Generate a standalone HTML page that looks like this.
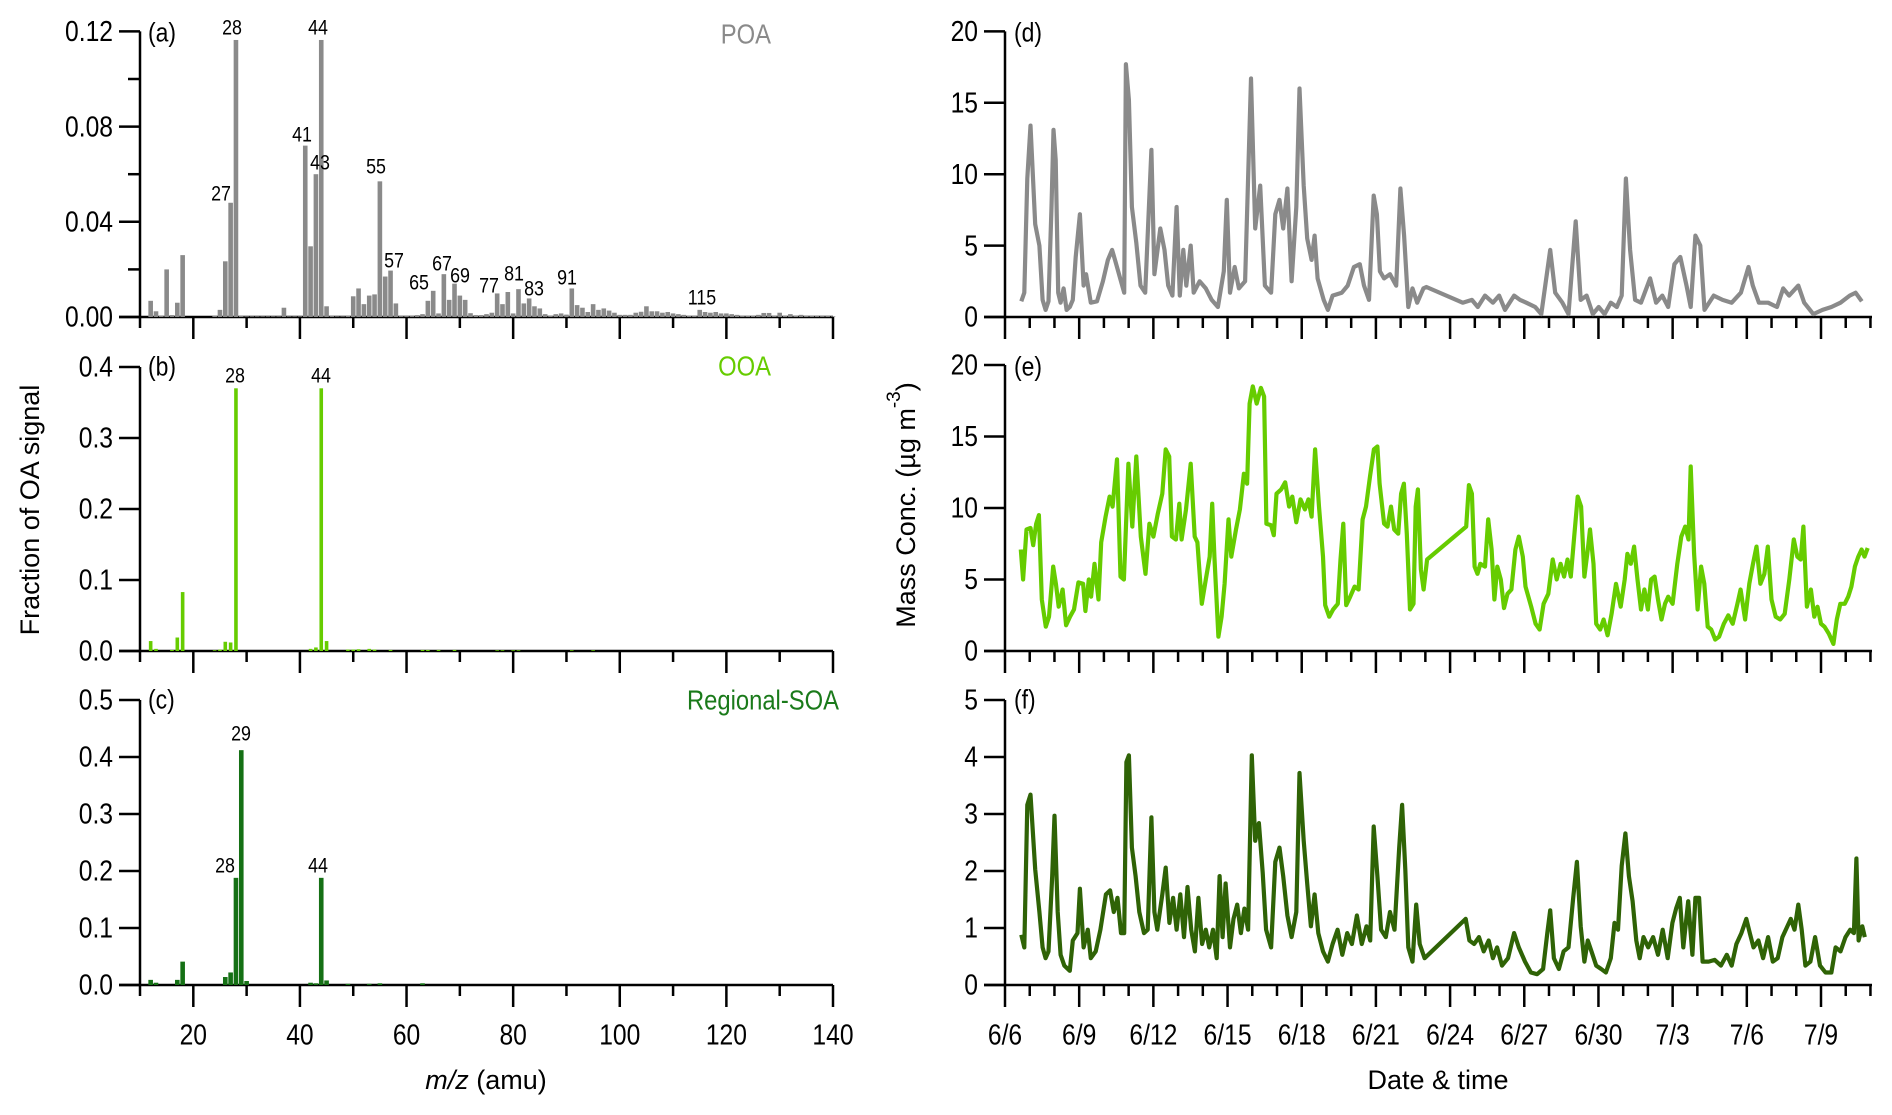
<!DOCTYPE html>
<html><head><meta charset="utf-8">
<style>
html,body{margin:0;padding:0;background:#fff;}
svg{display:block;}
.n{font-family:"Liberation Sans Narrow","Liberation Sans",sans-serif;}
.w{font-family:"Liberation Sans",sans-serif;}
</style></head>
<body>
<svg id="fig" width="1892" height="1115" viewBox="0 0 1892 1115" xmlns="http://www.w3.org/2000/svg">
<g id="axes"></g>
<g id="marks"></g>
<g id="texts"></g>
</svg>
<script>
// ---------- mass spectra data (m/z 12..140) ----------
const mzStart = 12;
const poaValues = [.0068,.0024,.0005,.020,.0008,.006,.026,0,0,0,0,0,.0005,.003,.0234,.048,.1164,.0005,
.0003,.0003,.0003,.0003,.0003,.0003,.0003,.0039,.0003,.0003,.0003,.072,.0297,.060,.1164,.0045,.0004,.0003,.0003,.0005,
.0087,.012,.0054,.009,.0095,.057,.017,.0195,.0057,.0004,.0004,.0004,.0008,.0012,.0068,.011,.0015,.018,.0072,.014,.009,.0072,
.0016,.0008,.0008,.0012,.0018,.0099,.0054,.0105,.0015,.0117,.0057,.0078,.0045,.0036,.0012,.0005,.0012,.0015,.001,.012,.005,.0039,
.0021,.0054,.003,.0036,.0027,.0018,.0009,.0009,.0009,.0018,.0022,.0045,.0024,.0024,.0018,.0021,.0015,.0012,.0009,.0006,.0005,.003,
.0021,.0018,.0021,.0015,.0015,.0012,.0009,.0006,.0006,.0005,.0009,.0017,.0017,.0005,.0018,.0005,.0012,.0005,.0009,.0005,.0005,.0004,.0004,.0004,.0003];
const ooaMz = [12,13,16,17,18,24,25,26,27,28,42,43,44,45,49,50,51,53,54,57,63,64,66,69,77,78,80,81,91,95];
const ooaValues = [.014,.003,.0015,.019,.083,.001,.002,.013,.012,.37,.003,.005,.37,.014,.002,.002,.0025,.003,.002,.0015,.0015,.0015,.0015,.0015,.001,.001,.001,.001,.001,.001];
const soaMz = [12,13,17,18,26,27,28,29,30,42,43,44,45,49,53,55,63];
const soaValues = [.009,.004,.009,.041,.014,.022,.188,.412,.007,.004,.003,.188,.008,.002,.002,.003,.003];

const poaLabels = [["28",232,28],["44",318,28],["41",302,135],["43",320,163],["27",221,194],["55",376,167],["57",394,261],["65",419,283],["67",442,264],["69",460,276],["77",489,286],["81",514,274],["83",534,289],["91",567,278],["115",702,298]];

// ---------- time series (days since 6/6 00:00) ----------
const poaDays = [0.66,0.78,0.90,1.03,1.22,1.39,1.52,1.64,1.76,1.88,1.96,2.05,2.15,2.25,2.37,2.49,2.62,2.74,2.86,3.03,3.18,3.28,3.47,3.72,3.96,4.16,4.33,4.45,4.69,4.82,4.89,5.01,5.13,5.31,5.48,5.67,5.92,6.04,6.28,6.45,6.60,6.77,6.94,7.07,7.21,7.33,7.51,7.63,7.87,8.12,8.36,8.61,8.85,8.97,9.10,9.29,9.46,9.71,9.95,10.12,10.32,10.51,10.76,10.93,11.10,11.25,11.42,11.59,11.78,11.91,12.08,12.22,12.40,12.52,12.64,12.89,13.06,13.25,13.62,13.86,14.11,14.35,14.52,14.72,14.91,15.04,15.16,15.33,15.57,15.82,15.99,16.14,16.31,16.48,16.67,16.92,17.04,18.51,18.88,19.12,19.41,19.73,19.98,20.22,20.59,20.83,21.08,21.44,21.69,22.05,22.25,22.54,22.79,23.08,23.28,23.52,23.77,24.01,24.25,24.50,24.74,24.94,25.11,25.28,25.48,25.72,26.09,26.33,26.58,26.82,27.07,27.31,27.56,27.73,27.92,28.12,28.29,28.66,29.02,29.39,29.76,30.07,30.24,30.49,30.86,31.22,31.47,31.71,32.08,32.32,32.69,33.06,33.42,33.79,34.16,34.40,34.65];
const poaConc = [1.1,1.7,9.7,13.4,6.5,5.0,1.2,0.5,1.1,7.7,13.1,11.0,1.7,1.0,2.0,0.5,0.7,1.2,4.2,7.2,2.2,3.0,1.0,1.1,2.5,4.0,4.7,4.0,2.5,1.7,17.7,15.2,7.7,5.2,2.2,1.7,11.7,3.0,6.2,4.7,2.2,1.5,7.7,1.5,4.7,2.2,5.0,1.7,2.5,2.0,1.2,0.7,3.2,8.2,1.7,3.5,2.0,2.5,16.7,6.2,9.2,2.2,1.7,7.2,8.2,6.2,9.0,2.5,7.7,16.0,9.2,5.5,4.0,5.7,2.7,1.2,0.5,1.5,1.7,2.2,3.5,3.7,2.2,1.2,8.5,7.2,3.2,2.7,3.0,2.2,9.0,5.7,0.7,2.0,1.0,2.0,2.1,1.0,1.2,0.7,1.5,1.0,1.5,0.5,1.5,1.2,1.0,0.7,0.2,4.7,1.7,1.0,0.2,6.7,1.2,1.5,0.2,0.7,0.2,1.0,0.7,1.5,9.7,4.7,1.2,1.0,2.7,1.0,1.5,0.7,3.7,4.2,2.2,0.7,5.7,5.0,0.5,1.5,1.2,1.0,1.7,3.5,2.2,1.0,1.0,0.7,2.0,1.5,2.2,1.0,0.2,0.5,0.7,1.0,1.5,1.7,1.1];

const ooaDays = [0.64,0.73,0.87,1.03,1.14,1.26,1.37,1.49,1.65,1.78,1.95,2.06,2.17,2.33,2.47,2.63,2.79,2.97,3.16,3.25,3.39,3.48,3.62,3.78,3.89,4.07,4.23,4.35,4.53,4.67,4.81,4.99,5.15,5.31,5.49,5.68,5.84,6.00,6.18,6.36,6.50,6.64,6.75,6.91,7.05,7.14,7.32,7.51,7.67,7.78,7.96,8.12,8.28,8.38,8.47,8.63,8.76,8.88,9.04,9.15,9.34,9.50,9.66,9.79,9.89,10.02,10.18,10.35,10.48,10.57,10.76,10.87,10.98,11.17,11.33,11.49,11.62,11.78,11.95,12.13,12.27,12.40,12.54,12.70,12.86,12.95,13.11,13.27,13.46,13.57,13.68,13.80,13.96,14.14,14.30,14.46,14.60,14.76,14.92,15.06,15.15,15.33,15.47,15.61,15.74,15.90,16.02,16.13,16.25,16.38,16.52,16.61,16.70,16.82,16.93,17.07,18.65,18.76,18.88,18.99,19.11,19.22,19.41,19.54,19.68,19.79,19.91,20.05,20.18,20.32,20.48,20.64,20.78,20.94,21.05,21.28,21.46,21.62,21.78,21.97,22.15,22.31,22.47,22.61,22.75,22.88,23.02,23.16,23.30,23.43,23.57,23.66,23.80,23.91,24.07,24.21,24.37,24.53,24.71,24.90,25.06,25.17,25.31,25.44,25.58,25.72,25.86,26.00,26.13,26.27,26.41,26.55,26.69,26.82,27.00,27.19,27.35,27.51,27.64,27.73,27.87,28.01,28.15,28.28,28.42,28.56,28.72,28.88,29.07,29.25,29.43,29.62,29.75,29.93,30.10,30.25,30.39,30.55,30.71,30.85,31.00,31.17,31.35,31.53,31.72,31.90,32.04,32.18,32.29,32.43,32.59,32.73,32.86,33.00,33.14,33.32,33.50,33.64,33.78,33.96,34.10,34.23,34.37,34.51,34.64,34.76,34.89];
const ooaConc = [7.1,5.0,8.5,8.6,7.4,8.9,9.5,3.6,1.7,2.4,5.9,4.7,3.1,4.3,1.8,2.4,2.9,4.8,4.7,2.8,5.0,3.8,6.1,3.6,7.6,9.4,10.8,10.1,13.4,5.2,5.0,13.1,8.7,13.6,8.0,5.4,8.9,8.0,9.6,11.0,14.1,13.6,8.0,7.8,10.3,7.8,9.9,13.1,8.0,7.6,3.3,5.0,6.6,10.3,6.6,1.0,2.4,4.7,9.2,6.6,8.5,9.9,12.4,11.7,17.3,18.5,17.3,18.4,17.8,8.9,8.8,8.1,11.0,11.3,11.8,10.1,10.8,9.0,10.6,9.9,10.6,9.4,14.1,10.1,6.6,3.2,2.4,2.9,3.3,6.4,8.9,3.2,3.8,4.5,4.3,9.2,10.1,12.2,14.1,14.3,11.7,8.9,8.7,10.1,8.5,8.2,11.0,11.7,8.2,2.9,3.3,10.1,11.3,5.7,4.3,6.4,8.7,11.6,11.0,5.9,5.4,6.1,5.9,9.2,7.1,3.6,5.9,5.0,3.0,4.0,4.3,7.1,8.0,6.6,4.5,3.1,1.9,1.5,3.3,4.0,6.4,5.0,6.1,5.2,6.4,5.2,8.0,10.8,10.1,5.2,7.1,8.5,6.1,1.9,1.5,2.2,1.1,2.6,4.7,3.1,5.0,6.8,6.1,7.3,5.0,2.9,4.3,2.9,5.0,5.2,3.6,2.2,3.3,3.8,3.3,6.1,8.0,8.7,7.8,12.9,6.8,2.9,5.9,4.7,1.7,1.5,0.8,1.0,1.9,2.5,1.9,3.3,4.3,2.2,4.7,6.1,7.3,4.7,5.4,7.3,3.6,2.4,2.2,2.6,5.0,7.8,6.6,6.4,8.7,3.1,4.3,2.4,3.1,1.9,1.7,1.2,0.5,2.2,3.3,3.3,3.8,4.5,5.9,6.6,7.1,6.6,7.2];

const soaDays = [0.66,0.78,0.90,1.03,1.22,1.39,1.52,1.64,1.76,1.91,2.00,2.13,2.25,2.40,2.62,2.74,2.93,3.03,3.18,3.35,3.47,3.67,3.86,4.08,4.25,4.40,4.55,4.69,4.82,4.91,5.01,5.13,5.28,5.43,5.62,5.77,5.92,6.04,6.16,6.36,6.50,6.65,6.80,6.94,7.09,7.24,7.38,7.53,7.68,7.82,7.97,8.12,8.26,8.41,8.56,8.68,8.80,8.92,9.10,9.24,9.39,9.54,9.68,9.83,9.98,10.12,10.27,10.42,10.56,10.76,10.93,11.10,11.25,11.42,11.59,11.78,11.91,12.08,12.22,12.37,12.52,12.67,12.86,13.06,13.25,13.45,13.64,13.84,14.03,14.23,14.43,14.62,14.77,14.91,15.06,15.21,15.40,15.57,15.75,15.94,16.06,16.19,16.31,16.48,16.63,16.77,16.97,18.63,18.78,18.97,19.17,19.36,19.56,19.73,19.90,20.10,20.34,20.59,20.78,21.03,21.27,21.52,21.76,21.93,22.05,22.20,22.40,22.59,22.79,22.98,23.13,23.28,23.43,23.57,23.72,23.91,24.11,24.30,24.50,24.65,24.79,24.94,25.09,25.23,25.38,25.53,25.67,25.82,26.01,26.21,26.41,26.60,26.80,26.99,27.14,27.29,27.43,27.63,27.80,27.92,28.07,28.21,28.46,28.70,28.95,29.19,29.39,29.58,29.78,29.98,30.12,30.27,30.47,30.66,30.86,31.05,31.25,31.44,31.64,31.78,31.93,32.08,32.22,32.37,32.57,32.76,32.96,33.18,33.42,33.59,33.79,33.99,34.18,34.33,34.43,34.52,34.67,34.77];
const soaConc = [0.88,0.66,3.16,3.34,2.03,1.28,0.66,0.47,0.59,1.91,2.97,1.28,0.53,0.34,0.25,0.78,0.91,1.69,0.66,0.97,0.47,0.59,0.97,1.59,1.66,1.28,1.53,0.91,0.91,3.91,4.03,2.41,1.91,1.28,0.91,0.97,2.94,1.28,0.97,1.59,2.06,1.09,1.53,0.97,1.59,0.84,1.72,0.97,0.59,1.53,0.72,0.97,0.66,0.97,0.47,1.91,0.84,1.78,0.66,1.16,1.41,0.91,1.34,0.97,4.03,2.53,2.84,1.97,0.97,0.66,2.16,2.41,1.91,1.22,0.84,1.28,3.72,2.53,1.78,1.03,1.59,0.91,0.59,0.41,0.72,0.97,0.53,0.91,0.72,1.22,0.72,1.03,0.78,2.78,1.91,0.97,0.84,1.28,0.97,2.41,3.16,2.03,0.66,0.41,1.41,0.72,0.47,1.16,0.78,0.72,0.84,0.59,0.78,0.47,0.66,0.34,0.47,0.91,0.66,0.41,0.22,0.19,0.28,0.91,1.31,0.47,0.28,0.59,0.66,1.53,2.16,1.03,0.41,0.78,0.59,0.34,0.28,0.22,0.47,1.09,0.97,2.09,2.66,1.91,1.47,0.78,0.47,0.84,0.66,0.84,0.53,0.97,0.47,1.09,1.34,1.53,0.66,1.47,0.53,1.53,1.53,0.41,0.41,0.44,0.34,0.53,0.34,0.72,0.91,1.16,0.91,0.66,0.78,0.47,0.84,0.41,0.47,0.84,1.03,1.16,0.97,1.41,0.97,0.34,0.41,0.84,0.34,0.22,0.22,0.66,0.59,0.84,0.97,0.91,2.22,0.78,1.03,0.84];

const dateLabels = ["6/6","6/9","6/12","6/15","6/18","6/21","6/24","6/27","6/30","7/3","7/6","7/9"];
const mzTicks = [20,40,60,80,100,120,140];
const ticksA = ["0.00","0.04","0.08","0.12"];
const ticksB = ["0.0","0.1","0.2","0.3","0.4"];
const ticksC = ["0.0","0.1","0.2","0.3","0.4","0.5"];
const ticksD = ["0","5","10","15","20"];
const ticksF = ["0","1","2","3","4","5"];

// ---------- helpers ----------
const NS = "http://www.w3.org/2000/svg";
const axesG = document.getElementById('axes'), marksG = document.getElementById('marks'), textG = document.getElementById('texts');
function mk(tag, attrs, parent){ const e=document.createElementNS(NS,tag); for(const k in attrs) e.setAttribute(k,attrs[k]); parent.appendChild(e); return e; }
function txt(s, x, y, size, anchor, cls, fill, parent){
  const t = mk('text',{x:0,y:0,'font-size':size,'text-anchor':anchor,'dominant-baseline':'central',fill:fill||'#000','class':cls,
    transform:'translate('+x+','+y+')'+(cls==='n'?' scale(0.85,1)':'')},parent||textG);
  t.textContent = s; return t;
}
const LX0=140, LX1=833;
const X = mz => LX0 + (mz-10)*(LX1-LX0)/130;
const RX0=1005, RX1=1872, DAYPX=(1821-1005)/33;
const T = d => RX0 + d*DAYPX;
const panels = {
  a:{top:31.4,bot:317,max:0.12},
  b:{top:367,bot:651,max:0.4},
  c:{top:700,bot:985,max:0.5},
  d:{top:31.4,bot:317,max:20},
  e:{top:365,bot:651,max:20},
  f:{top:700,bot:985,max:5}
};
const Y = (p,v) => panels[p].bot - v/panels[p].max*(panels[p].bot-panels[p].top);

function leftAxis(p, ticks, step, x0, x1){
  const P=panels[p];
  let a=mk('line',{x1:x0,y1:P.top,x2:x0,y2:P.bot,stroke:'#000','stroke-width':2.5},axesG);
  
  
  let b=mk('line',{x1:x0-21,y1:P.bot,x2:x1,y2:P.bot,stroke:'#000','stroke-width':2.5},axesG);
  
  
  for(let i=0;i<ticks.length;i++){
    const v=i*step, y=Y(p,v);
    mk('line',{x1:x0-21,y1:y,x2:x0,y2:y,stroke:'#000','stroke-width':2.5},axesG);
    const t=txt(ticks[i], x0-27, y, 29, 'end','n');
    
    
    if(i<ticks.length-1 && p==='a'){ const ym=Y(p,v+step/2); mk('line',{x1:x0-12,y1:ym,x2:x0,y2:ym,stroke:'#000','stroke-width':2.5},axesG); }
  }
}
function mzTicksDraw(p){
  const P=panels[p];
  for(let m=10;m<=140;m+=10){
    const major = (m%20===0);
    mk('line',{x1:X(m),y1:P.bot,x2:X(m),y2:P.bot+(major?22:11),stroke:'#000','stroke-width':2.5},axesG);
  }
}
function dayTicks(p){
  const P=panels[p];
  for(let d=0; T(d)<=RX1+1; d++){
    const major=(d%3===0);
    mk('line',{x1:T(d),y1:P.bot,x2:T(d),y2:P.bot+(major?22:11),stroke:'#000','stroke-width':2.5},axesG);
  }
}
leftAxis('a',ticksA,0.04,LX0,LX1); mzTicksDraw('a');
leftAxis('b',ticksB,0.1,LX0,LX1); mzTicksDraw('b');
leftAxis('c',ticksC,0.1,LX0,LX1); mzTicksDraw('c');
leftAxis('d',ticksD,5,RX0,RX1); dayTicks('d');
leftAxis('e',ticksD,5,RX0,RX1); dayTicks('e');
leftAxis('f',ticksF,1,RX0,RX1); dayTicks('f');

mzTicks.forEach(m=>{ const t=txt(String(m), X(m), 1035, 29, 'middle','n');
  
   });
dateLabels.forEach((s,i)=>{ const t=txt(s, T(i*3), 1035, 29, 'middle','n');
  
   });

// ---------- bars ----------
const cPOA='#8a8a8a', cOOA='#66cc00', cSOAbar='#157015', cSOAline='#2f6306';
poaValues.forEach((v,i)=>{ const m=mzStart+i; if(v<=0) return;
  const r=mk('rect',{x:X(m)-2.3,y:Y('a',v),width:4.6,height:Math.max(0.6,panels.a.bot-Y('a',v)),fill:cPOA},marksG);
  
   });
ooaMz.forEach((m,i)=>{ const v=ooaValues[i];
  const r=mk('rect',{x:X(m)-1.8,y:Y('b',v),width:3.6,height:Math.max(0.6,panels.b.bot-Y('b',v)),fill:cOOA},marksG);
  
   });
soaMz.forEach((m,i)=>{ const v=soaValues[i];
  const r=mk('rect',{x:X(m)-2.3,y:Y('c',v),width:4.6,height:Math.max(0.6,panels.c.bot-Y('c',v)),fill:cSOAbar},marksG);
  
   });

// ---------- lines ----------
function series(p, days, vals, color, name){
  const d = days.map((t,i)=>(i?'L':'M')+T(t).toFixed(1)+','+Y(p,vals[i]).toFixed(1)).join('');
  const e=mk('path',{d:d,fill:'none',stroke:color,'stroke-width':4.2,'stroke-linejoin':'round'},marksG);
  
  
}
series('d',poaDays,poaConc,cPOA,'poa-timeseries');
series('e',ooaDays,ooaConc,cOOA,'ooa-timeseries');
series('f',soaDays,soaConc,cSOAline,'soa-timeseries');

// ---------- annotations ----------
poaLabels.forEach(l=>{ const t=txt(l[0],l[1],l[2],21,'middle','n');
  
   });
[["28",235,376],["44",321,376]].forEach(l=>{ const t=txt(l[0],l[1],l[2],21,'middle','n');
  
   });
[["29",241,734],["28",225,866],["44",318,866]].forEach(l=>{ const t=txt(l[0],l[1],l[2],21,'middle','n');
  
   });

[["(a)",148,33],["(b)",148,367],["(c)",148,700],["(d)",1014,33],["(e)",1014,367],["(f)",1014,700]].forEach(l=>{
  const t=txt(l[0],l[1],l[2],27,'start','n');
  
   });

let t1=txt('POA',771,34,28,'end','n',cPOA);  
let t2=txt('OOA',771,366,28,'end','n',cOOA);  
let t3=txt('Regional-SOA',839,700,28,'end','n','#1a7a1a');  

let xt=mk('text',{x:486,y:1080,'font-size':27,'text-anchor':'middle','dominant-baseline':'central','class':'w'},textG);
xt.innerHTML='<tspan font-style="italic">m/z</tspan> (amu)';


let xt2=txt('Date & time',1438,1080,27,'middle','w');


let yt=mk('text',{x:0,y:0,'font-size':27,'text-anchor':'middle','dominant-baseline':'central','class':'w',transform:'translate(30,510) rotate(-90)'},textG);
yt.textContent='Fraction of OA signal';


let yt2=mk('text',{x:0,y:0,'font-size':27,'text-anchor':'middle','dominant-baseline':'central','class':'w',transform:'translate(906,505) rotate(-90)'},textG);
yt2.innerHTML='Mass Conc. (µg m<tspan dy="-12" font-size="19">-3</tspan><tspan dy="12">)</tspan>';


</script>
</body></html>
